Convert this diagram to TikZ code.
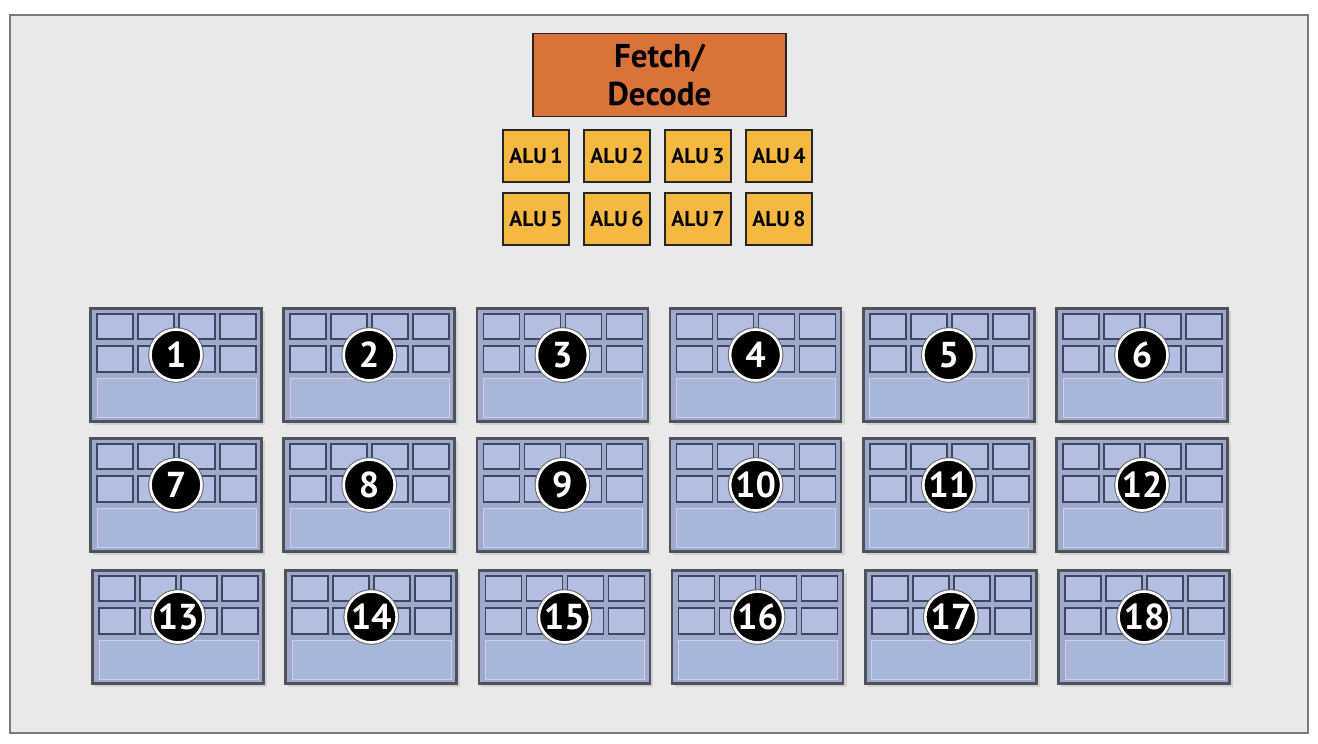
\documentclass[tikz,border=0pt]{standalone}
\usepackage{fontspec}
\setmainfont{PT Sans}
\definecolor{bg}{HTML}{E9E9E9}
\definecolor{framec}{HTML}{7A7A7A}
\definecolor{fetchc}{HTML}{D9733A}
\definecolor{aluc}{HTML}{F5B942}
\definecolor{tilec}{HTML}{9EAACB}
\definecolor{cellc}{HTML}{B3BFE2}
\definecolor{celld}{HTML}{3E4762}
\definecolor{panelc}{HTML}{A9B6DB}
\definecolor{tileb}{HTML}{4E525A}
\tikzset{
  fetchbox/.style={draw=black!85, line width=1.2pt, fill=fetchc, minimum width=253pt, minimum height=83pt, align=center, font=\bfseries\fontsize{33}{38}\selectfont, inner sep=0pt},
  alubox/.style={draw=black!85, line width=1.2pt, fill=aluc, minimum width=66pt, minimum height=52pt, font=\bfseries\fontsize{21.5}{21.5}\selectfont, inner sep=0pt},
  tilebox/.style={draw=tileb, line width=2.6pt, fill=tilec, minimum width=171pt, minimum height=113pt, inner sep=0pt},
  cellbox/.style={draw=celld, line width=1.6pt, fill=cellc},
  panelbox/.style={draw=cellc!70!white, line width=1pt, fill=panelc},
  numc/.style={circle, fill=black, draw=white, line width=2.6pt, minimum size=51pt, inner sep=0pt, text=white, font=\bfseries\fontsize{36}{36}\selectfont,
     preaction={draw=gray!80!black, line width=4.6pt}},
  shadowbox/.style={fill=black!25}
}
\begin{document}
\begin{tikzpicture}[x=1pt,y=-1pt]
\useasboundingbox (0,0) rectangle (1318,744);
\fill[white] (0,0) rectangle (1318,744);
\draw[fill=bg, draw=framec, line width=1.8pt] (10,15) rectangle (1308,733);

\node[fetchbox] (fd) at (659.5,75) {Fetch/\\Decode};

\foreach \k/\x/\y in {1/536/156, 2/617/156, 3/698/156, 4/779/156, 5/536/219, 6/617/219, 7/698/219, 8/779/219}{
  \node[alubox] (alu\k) at (\x,\y) {ALU\,\k};
}

\foreach \i in {1,...,18}{
  \pgfmathtruncatemacro{\r}{(\i-1)/6}
  \pgfmathtruncatemacro{\c}{\i-1-6*\r}
  \pgfmathsetmacro{\tx}{90+193.2*\c+(\r==2?2:0)}
  \pgfmathsetmacro{\ty}{\r==0?308:(\r==1?438:570)}
  \begin{scope}[shift={(\tx,\ty)}]
    \fill[black!18] (3,3) rectangle (175,117);
    \node[tilebox] (t\i) at (86,57) {};
    \foreach \cx in {7,48,89,130}{
      \draw[cellbox] (\cx,6) rectangle ++(36,25);
      \draw[cellbox] (\cx,38) rectangle ++(36,26);
    }
    \draw[panelbox] (7,70) rectangle (166,109);
    \node[numc] (n\i) at (86,47) {\i};
  \end{scope}
}
\end{tikzpicture}
\end{document}
